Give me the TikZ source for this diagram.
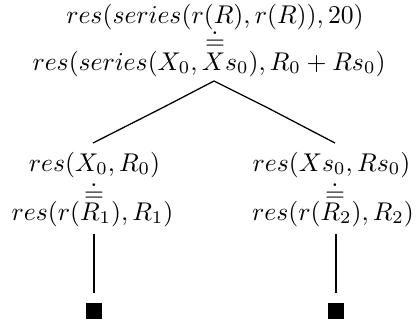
\documentclass[tikz,border=0pt]{standalone}
\begin{document}
\begin{tikzpicture}[x=0.39pt,y=-0.39pt,
  term/.style={anchor=base,inner sep=0pt,outer sep=0pt},
  branch/.style={line width=0.5pt},
  stem/.style={line width=0.8pt},
  leaf/.style={fill=black,draw=none,inner sep=0pt,minimum size=6.3pt}]
\useasboundingbox (0,0) rectangle (416,324);
% root
\node[term] (t1) at (215,23) {$res(series(r(R),r(R)),20)$};
\node[term] (e0) at (215,49) {$\doteq$};
\node[term] (t2) at (209,70) {$res(series(X_0,Xs_0),R_0+Rs_0)$};
% left premise
\node[term] (l1) at (94.5,171) {$res(X_0,R_0)$};
\node[term] (el) at (94,201) {$\doteq$};
\node[term] (l2) at (92.5,220) {$res(r(R_1),R_1)$};
% right premise
\node[term] (r1) at (331.5,171) {$res(Xs_0,Rs_0)$};
\node[term] (er) at (335,201) {$\doteq$};
\node[term] (r2) at (333,220) {$res(r(R_2),R_2)$};
% leaves
\node[leaf] (sl) at (94,311) {};
\node[leaf] (sr) at (336,311) {};
% connector points
\coordinate (apex) at (214,81);
\coordinate (kl) at (162,108);
\coordinate (endl) at (93,143);
\coordinate (kr) at (268,108);
\coordinate (endr) at (335,143);
\coordinate (tl) at (94,234);
\coordinate (bl) at (94,293);
\coordinate (tr) at (336,234);
\coordinate (br) at (336,293);
\draw[branch] (endl) -- (kl) -- (apex) -- (kr) -- (endr);
\draw[stem] (tl) -- (bl);
\draw[stem] (tr) -- (br);
\end{tikzpicture}
\end{document}
